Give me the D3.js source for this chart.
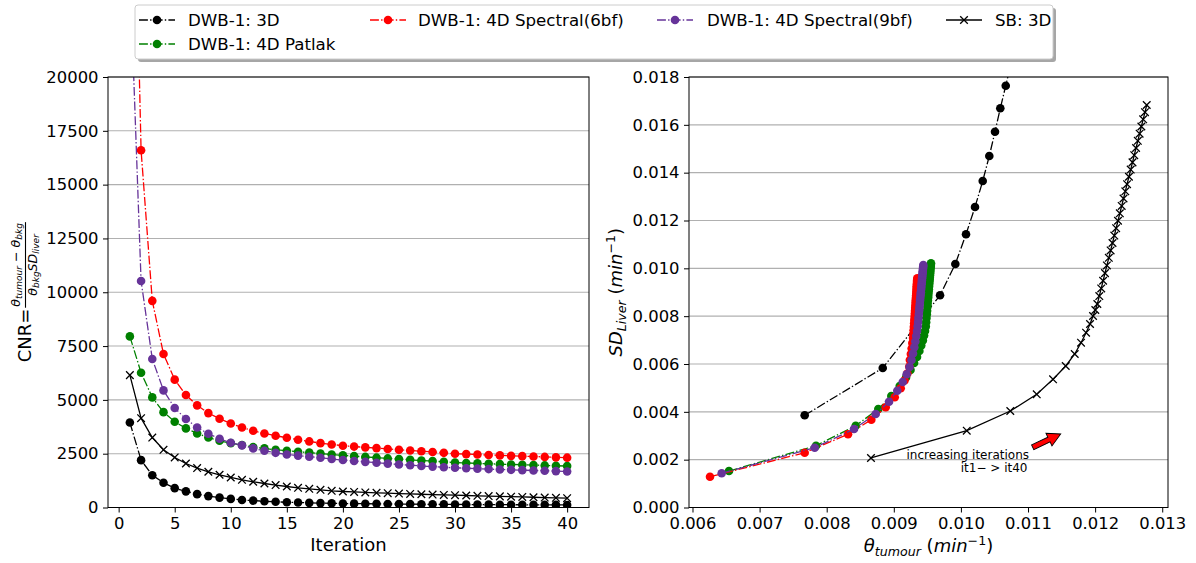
<!DOCTYPE html>
<html><head><meta charset="utf-8">
<script src="https://cdn.jsdelivr.net/npm/d3@7"></script>
<style>
body{margin:0;background:#fff;}
svg{display:block;font-family:"DejaVu Sans",sans-serif;}
</style></head><body>
<svg id="chart" width="1196" height="563"></svg>
<script>
// ---------- DATA ----------
const iterations = [1,2,3,4,5,6,7,8,9,10,11,12,13,14,15,16,17,18,19,20,21,22,23,24,25,26,27,28,29,30,31,32,33,34,35,36,37,38,39,40];

// Left panel: CNR per iteration
const cnr3D     = [3950,2200,1500,1150,900,750,620,530,460,400,350,320,290,265,245,230,215,205,195,185,180,175,170,165,160,156,152,148,145,142,139,136,133,131,129,127,125,123,121,119];
const cnrPatlak = [7950,6260,5115,4430,3985,3675,3440,3255,3100,2990,2900,2805,2745,2680,2635,2590,2550,2510,2465,2420,2385,2350,2315,2280,2250,2215,2185,2155,2120,2090,2070,2050,2030,2015,2000,1985,1970,1955,1940,1925];
const cnr6bf    = [39000,16600,9600,7130,5940,5225,4745,4385,4125,3905,3720,3565,3440,3335,3240,3150,3070,2990,2930,2870,2830,2795,2760,2720,2685,2650,2615,2580,2540,2500,2480,2460,2440,2420,2400,2385,2370,2350,2330,2315];
const cnr9bf    = [25000,10525,6900,5440,4620,4110,3720,3425,3195,3005,2885,2745,2635,2540,2465,2410,2360,2310,2255,2205,2160,2120,2080,2040,2000,1965,1930,1900,1870,1845,1825,1805,1785,1765,1750,1735,1720,1705,1690,1675];
const cnrSB     = [6150,4150,3250,2680,2325,2045,1830,1660,1520,1395,1285,1195,1115,1040,975,915,868,821,775,744,722,701,682,664,647,631,615,600,586,572,558,544,530,517,504,490,476,462,448,435];

// Right panel: theta_tumour (x) and SD_liver (y) per iteration
const theta3D = [0.007672,0.008835,0.009689,0.009917,0.010076,0.010210,0.010325,0.010423,0.010508,0.010587,0.010668,0.010745];
const sd3D    = [0.003855,0.005833,0.008872,0.010181,0.011423,0.012564,0.013651,0.014697,0.015713,0.016691,0.017636,0.018550];

const thetaPatlak = [0.006544,0.007841,0.008432,0.008769,0.008963,0.009088,0.009182,0.009249,0.009302,0.009346,0.009381,0.009409,0.009433,0.009451,0.009465,0.009477,0.009482,0.009487,0.009492,0.009496,0.009500,0.009504,0.009508,0.009512,0.009515,0.009519,0.009522,0.009525,0.009528,0.009531,0.009534,0.009536,0.009539,0.009541,0.009543,0.009545,0.009548,0.009550,0.009552,0.009554];
const sdPatlak    = [0.001526,0.002584,0.003420,0.004118,0.004662,0.005080,0.005435,0.005749,0.006042,0.006293,0.006543,0.006773,0.006982,0.007192,0.007380,0.007568,0.00775,0.00792,0.00808,0.00823,0.00838,0.00852,0.00865,0.00878,0.00890,0.00902,0.00913,0.00924,0.00934,0.00944,0.00953,0.00962,0.00970,0.00978,0.00986,0.00993,0.01001,0.01008,0.01015,0.01021];

const theta6bf = [0.006261,0.007672,0.008318,0.008665,0.008879,0.009014,0.009103,0.009160,0.009202,0.009231,0.009239,0.009254,0.009266,0.009276,0.009287,0.009291,0.009295,0.009299,0.009303,0.009306,0.009310,0.009313,0.009316,0.009319,0.009322,0.009325,0.009327,0.009330,0.009332,0.009335,0.009337,0.009339,0.009341,0.009342,0.009344,0.009346,0.009347,0.009349,0.009350,0.009351];
const sd6bf    = [0.001288,0.002291,0.003061,0.003671,0.004190,0.004608,0.004984,0.005310,0.005603,0.005895,0.006167,0.006418,0.006648,0.006878,0.007087,0.00725,0.00741,0.00756,0.00770,0.00784,0.00797,0.00810,0.00822,0.00834,0.00845,0.00856,0.00866,0.00876,0.00885,0.00894,0.00902,0.00910,0.00918,0.00925,0.00932,0.00939,0.00945,0.00950,0.00954,0.00958];

const theta9bf = [0.006435,0.007821,0.008407,0.008730,0.008929,0.009052,0.009133,0.009192,0.009234,0.009264,0.009286,0.009306,0.009321,0.009334,0.009346,0.009356,0.009362,0.009367,0.009373,0.009378,0.009382,0.009387,0.009391,0.009395,0.009399,0.009403,0.009406,0.009409,0.009413,0.009416,0.009419,0.009421,0.009424,0.009426,0.009429,0.009431,0.009433,0.009436,0.009438,0.009440];
const sd9bf    = [0.001430,0.002500,0.003282,0.003909,0.004424,0.004884,0.005247,0.005569,0.005874,0.006167,0.006439,0.006698,0.006941,0.007171,0.007380,0.007580,0.00776,0.00793,0.00809,0.00824,0.00838,0.00852,0.00865,0.00877,0.00889,0.00900,0.00911,0.00921,0.00931,0.00940,0.00949,0.00957,0.00965,0.00973,0.00980,0.00987,0.00994,0.01001,0.01007,0.01014];

const thetaSB = [0.008660,0.010087,0.010736,0.011130,0.011373,0.011562,0.011696,0.011790,0.011865,0.011924,0.011969,0.012003,0.012033,0.012062,0.012091,0.012119,0.012147,0.012175,0.012204,0.012231,0.012259,0.012286,0.012313,0.012341,0.012368,0.012396,0.012423,0.012450,0.012476,0.012504,0.012530,0.012557,0.012583,0.012610,0.012636,0.012663,0.012689,0.012716,0.012743,0.012769];
const sdSB    = [0.002070,0.003211,0.004035,0.004733,0.005360,0.005916,0.006418,0.006891,0.007309,0.007672,0.008007,0.008258,0.008509,0.00884,0.00916,0.00948,0.00980,0.01012,0.01044,0.01075,0.01106,0.01137,0.01168,0.01199,0.01230,0.01261,0.01292,0.01322,0.01352,0.01383,0.01413,0.01443,0.01473,0.01503,0.01533,0.01563,0.01593,0.01623,0.01653,0.01683];

const seriesNames = ["DWB-1: 3D","DWB-1: 4D Patlak","DWB-1: 4D Spectral(6bf)","DWB-1: 4D Spectral(9bf)","SB: 3D"];
const seriesColors = ["#000000","#008000","#ff0000","#663399","#000000"];

const xTicksL = [0,5,10,15,20,25,30,35,40];
const yTicksL = [0,2500,5000,7500,10000,12500,15000,17500,20000];
const xTicksR = [0.006,0.007,0.008,0.009,0.010,0.011,0.012,0.013];
const yTicksR = [0,0.002,0.004,0.006,0.008,0.010,0.012,0.014,0.016,0.018];

// ---------- LAYOUT ----------
const svg = d3.select("#chart");
const FONT = "DejaVu Sans";
const TICKF = 16.4, LABF = 18, LEGF = 16.67;
const L = {x0:108, x1:589, y0:77, y1:507.5};
const R = {x0:689, x1:1168, y0:77, y1:507.5};

const xL = d3.scaleLinear().domain([-0.95, 41.95]).range([L.x0, L.x1]);
const yL = d3.scaleLinear().domain([0, 20000]).range([L.y1, L.y0]);
const xR = d3.scaleLinear().domain([0.005948, 0.013086]).range([R.x0, R.x1]);
const yR = d3.scaleLinear().domain([0, 0.018]).range([R.y1, R.y0]);

const defs = svg.append("defs");
function clip(id, b){
  defs.append("clipPath").attr("id", id).append("rect")
    .attr("x", b.x0).attr("y", b.y0).attr("width", b.x1-b.x0).attr("height", b.y1-b.y0);
}
clip("clipL", L); clip("clipR", R);

const DASHDOT = "8.9,2.2,1.4,2.2";
const styles = [
  {color:seriesColors[0], dash:DASHDOT, marker:"o"},
  {color:seriesColors[1], dash:DASHDOT, marker:"o"},
  {color:seriesColors[2], dash:DASHDOT, marker:"o"},
  {color:seriesColors[3], dash:DASHDOT, marker:"o"},
  {color:seriesColors[4], dash:null,    marker:"x"}
];
const XPATH = "M-3.8,-3.8L3.8,3.8M-3.8,3.8L3.8,-3.8";

function drawGrid(b, ys, yScale){
  const g = svg.append("g");
  ys.forEach(v => {
    g.append("line").attr("x1", b.x0).attr("x2", b.x1)
      .attr("y1", yScale(v)).attr("y2", yScale(v))
      .attr("stroke", "#b0b0b0").attr("stroke-width", 1.1);
  });
}

function drawSeries(clipId, pts, st){
  const g = svg.append("g").attr("clip-path", `url(#${clipId})`);
  const line = d3.line().x(d => d[0]).y(d => d[1]);
  const p = g.append("path").attr("d", line(pts)).attr("fill", "none")
    .attr("stroke", st.color).attr("stroke-width", 1.3);
  if (st.dash) p.attr("stroke-dasharray", st.dash);
  pts.forEach(d => {
    if (st.marker === "o") {
      g.append("circle").attr("cx", d[0]).attr("cy", d[1]).attr("r", 4.3).attr("fill", st.color);
    } else {
      g.append("path").attr("d", XPATH).attr("transform", `translate(${d[0]},${d[1]})`)
        .attr("stroke", st.color).attr("stroke-width", 1.3).attr("fill", "none");
    }
  });
}

function drawAxes(b, xs, ys, xt, yt, xfmt, yfmt){
  const gx = svg.append("g").attr("transform", `translate(0,${b.y1})`)
    .call(d3.axisBottom(xs).tickValues(xt).tickSize(5).tickPadding(4.5).tickFormat(xfmt));
  const gy = svg.append("g").attr("transform", `translate(${b.x0},0)`)
    .call(d3.axisLeft(ys).tickValues(yt).tickSize(5).tickPadding(4.5).tickFormat(yfmt));
  [gx, gy].forEach(g => {
    g.select(".domain").remove();
    g.selectAll("line").attr("stroke", "#000").attr("stroke-width", 1);
    g.selectAll("text").attr("font-family", FONT).attr("font-size", TICKF).attr("fill", "#000");
  });
  svg.append("rect").attr("x", b.x0).attr("y", b.y0).attr("width", b.x1-b.x0).attr("height", b.y1-b.y0)
    .attr("fill", "none").attr("stroke", "#000").attr("stroke-width", 1);
}

// ---------- LEFT PANEL ----------
drawGrid(L, yTicksL, yL);
const leftData = [cnr3D, cnrPatlak, cnr6bf, cnr9bf, cnrSB];
leftData.forEach((arr, i) => {
  const pts = arr.map((v, k) => [xL(iterations[k]), yL(v)]);
  drawSeries("clipL", pts, styles[i]);
});
drawAxes(L, xL, yL, xTicksL, yTicksL, d3.format("d"), d3.format("d"));

// ---------- RIGHT PANEL ----------
drawGrid(R, yTicksR, yR);
const rightData = [[theta3D, sd3D],[thetaPatlak, sdPatlak],[theta6bf, sd6bf],[theta9bf, sd9bf],[thetaSB, sdSB]];
rightData.forEach((pair, i) => {
  const pts = pair[0].map((v, k) => [xR(v), yR(pair[1][k])]);
  drawSeries("clipR", pts, styles[i]);
});
drawAxes(R, xR, yR, xTicksR, yTicksR, d3.format(".3f"), d3.format(".3f"));

// annotation
const ann = svg.append("g").attr("font-family", FONT).attr("font-size", 12).attr("fill", "#000").attr("text-anchor", "end");
ann.append("text").attr("x", 1029).attr("y", 458.5).text("increasing iterations");
ann.append("text").attr("x", 1027.5).attr("y", 472).text("it1\u2212 > it40");
{
  const Lr = 31, sh = 2.6, hh = 7, hl = 13;
  const poly = [[0,-sh],[Lr-hl,-sh],[Lr-hl,-hh],[Lr,0],[Lr-hl,hh],[Lr-hl,sh],[0,sh]];
  svg.append("path").attr("d", "M" + poly.map(p => p.join(",")).join("L") + "Z")
    .attr("transform", "translate(1032.7,447.3) rotate(-25.4)")
    .attr("fill", "#ff0000").attr("stroke", "#000").attr("stroke-width", 0.9);
}

// ---------- AXIS LABELS ----------
svg.append("text").attr("x", (L.x0+L.x1)/2).attr("y", 551).attr("text-anchor", "middle")
  .attr("font-family", FONT).attr("font-size", LABF).text("Iteration");

// theta_tumour (min^-1)
{
  const t = svg.append("text").attr("x", (R.x0+R.x1)/2).attr("y", 552).attr("text-anchor", "middle")
    .attr("font-family", FONT).attr("font-size", LABF).attr("xml:space", "preserve");
  t.append("tspan").attr("font-style", "italic").text("θ");
  t.append("tspan").attr("font-style", "italic").attr("font-size", LABF*0.7).attr("dy", 3.5).text("tumour");
  t.append("tspan").attr("dy", -3.5).text("\u00a0(");
  t.append("tspan").attr("font-style", "italic").text("min");
  t.append("tspan").attr("font-size", LABF*0.7).attr("dy", -7).text("\u22121");
  t.append("tspan").attr("dy", 7).text(")");
}
// SD_Liver (min^-1)
{
  const t = svg.append("text").attr("transform", `translate(622,${(R.y0+R.y1)/2}) rotate(-90)`)
    .attr("text-anchor", "middle").attr("font-family", FONT).attr("font-size", LABF);
  t.append("tspan").attr("font-style", "italic").text("SD");
  t.append("tspan").attr("font-style", "italic").attr("font-size", LABF*0.7).attr("dy", 3.5).text("Liver");
  t.append("tspan").attr("dy", -3.5).text("\u00a0(");
  t.append("tspan").attr("font-style", "italic").text("min");
  t.append("tspan").attr("font-size", LABF*0.7).attr("dy", -7).text("\u22121");
  t.append("tspan").attr("dy", 7).text(")");
}
// CNR = fraction
{
  const cy = (L.y0+L.y1)/2;
  const g = svg.append("g").attr("transform", `translate(0,${cy}) rotate(-90)`)
    .attr("font-family", FONT);
  const fs = LABF*0.7, ss = LABF*0.5;
  const cnr = g.append("text").attr("font-size", LABF).attr("y", 31).text("CNR=");
  const num = g.append("text").attr("font-size", fs).attr("y", 19.5).attr("text-anchor", "middle");
  num.append("tspan").attr("font-style", "italic").text("θ");
  num.append("tspan").attr("font-style", "italic").attr("font-size", ss).attr("dy", 2.5).text("tumour");
  num.append("tspan").attr("dy", -2.5).text("\u00a0\u2212\u00a0");
  num.append("tspan").attr("font-style", "italic").text("θ");
  num.append("tspan").attr("font-style", "italic").attr("font-size", ss).attr("dy", 2.5).text("bkg");
  const den = g.append("text").attr("font-size", fs).attr("y", 36.5).attr("text-anchor", "middle");
  den.append("tspan").attr("font-style", "italic").text("θ");
  den.append("tspan").attr("font-style", "italic").attr("font-size", ss).attr("dy", 2.5).text("bkg");
  den.append("tspan").attr("font-style", "italic").attr("dy", -2.5).text("SD");
  den.append("tspan").attr("font-style", "italic").attr("font-size", ss).attr("dy", 2.5).text("liver");
  const wc = cnr.node().getComputedTextLength();
  const wn = num.node().getComputedTextLength();
  const wd = den.node().getComputedTextLength();
  const wf = Math.max(wn, wd) + 2;
  const total = wc + 1 + wf;
  const start = -total/2;
  cnr.attr("x", start);
  const fc = start + wc + 1 + wf/2;
  num.attr("x", fc); den.attr("x", fc);
  g.append("line").attr("x1", fc - wf/2).attr("x2", fc + wf/2).attr("y1", 25.5).attr("y2", 25.5)
    .attr("stroke", "#000").attr("stroke-width", 1.1);
}

// ---------- LEGEND ----------
{
  const lg = svg.append("g");
  lg.append("rect").attr("x", 138).attr("y", 8).attr("width", 918).attr("height", 54).attr("rx", 3)
    .attr("fill", "#a6a6a6");
  lg.append("rect").attr("x", 135).attr("y", 5).attr("width", 918).attr("height", 54).attr("rx", 3)
    .attr("fill", "#fff").attr("stroke", "#cccccc").attr("stroke-width", 1);
  const pos = [
    {hx:139, tx:188, y:20},
    {hx:139, tx:188, y:44},
    {hx:370, tx:418, y:20},
    {hx:657, tx:707, y:20},
    {hx:946, tx:995, y:20}
  ];
  seriesNames.forEach((name, i) => {
    const p = pos[i], st = styles[i];
    const ln = lg.append("line").attr("x1", p.hx).attr("x2", p.hx+36).attr("y1", p.y).attr("y2", p.y)
      .attr("stroke", st.color).attr("stroke-width", 1.3);
    if (st.dash) ln.attr("stroke-dasharray", st.dash);
    if (st.marker === "o") lg.append("circle").attr("cx", p.hx+18).attr("cy", p.y).attr("r", 4.3).attr("fill", st.color);
    else lg.append("path").attr("d", XPATH).attr("transform", `translate(${p.hx+18},${p.y})`)
      .attr("stroke", st.color).attr("stroke-width", 1.3).attr("fill", "none");
    lg.append("text").attr("x", p.tx).attr("y", p.y + 6).attr("font-family", FONT).attr("font-size", LEGF)
      .attr("fill", "#000").text(name);
  });
}
</script>
</body></html>
